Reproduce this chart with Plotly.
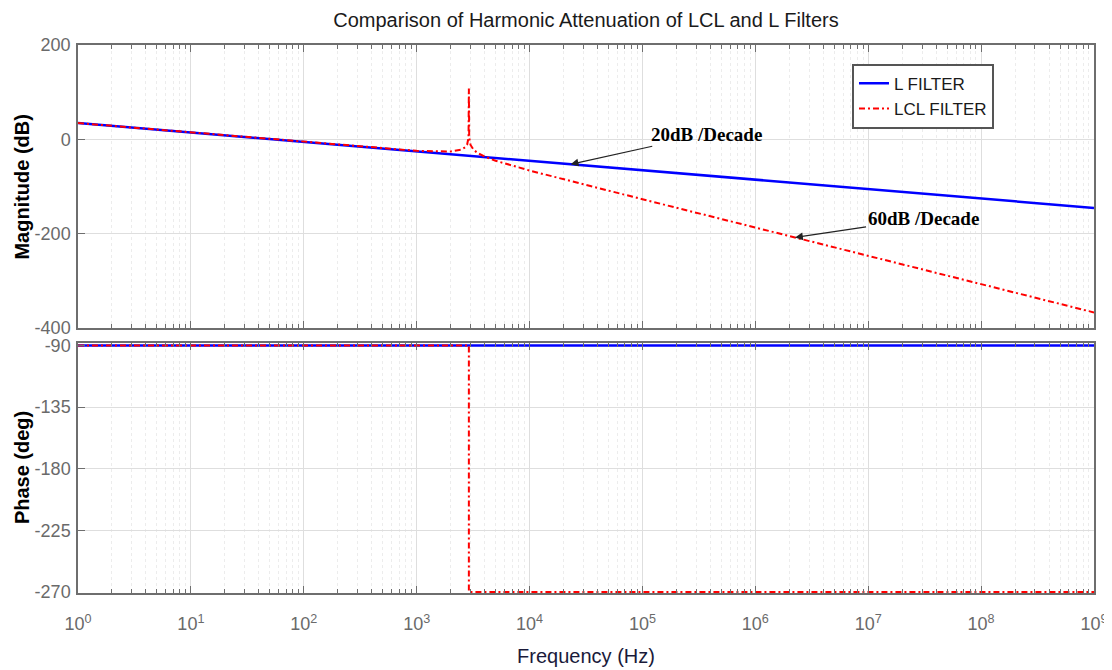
import plotly.graph_objects as go
from plotly.subplots import make_subplots

# ---- data ----
l_freq = [1, 1e9]
l_mag = [34.5, -145.5]

lcl_freq = [1, 10, 100, 1000, 2000, 2500, 2700, 2800, 2880, 2900, 2920, 3000,
            3200, 3500, 4000, 5000, 1e4, 1e5, 1e6, 1e7, 1e8, 1e9]
lcl_mag = [34.5, 14.5, -5.5, -24.4, -25.9, -21.7, -16.6, -11.1, 4.0, 108.0, 4.0, -11.9,
           -22.4, -29.6, -36.6, -45.4, -66.2, -127.0, -187.0, -247.0, -307.0, -367.0]

l_phase_freq = [1, 1e9]
l_phase = [-90, -90]
lcl_phase_freq = [1, 2900, 2900, 1e9]
lcl_phase = [-90, -90, -270, -270]

x_tick_exp = [0, 1, 2, 3, 4, 5, 6, 7, 8, 9]
x_tick_vals = [10 ** e for e in x_tick_exp]
x_tick_text = ["10<sup>%d</sup>" % e for e in x_tick_exp]
mag_ticks = [-400, -200, 0, 200]
mag_tick_text = ["-400", "-200", "0", "200"]
phase_ticks = [-270, -225, -180, -135, -90]
phase_tick_text = ["-270", "-225", "-180", "-135", "-90"]

BLUE = "#0000ff"
RED = "#ff0000"
AXIS = "#6e6e6e"
SANS = "Liberation Sans, Arial, sans-serif"
TICKFONT = dict(family=SANS, size=18, color="#6a6a6a")
DASHDOT = "6px,3px,2px,3px"

fig = make_subplots(rows=2, cols=1, shared_xaxes=True, vertical_spacing=0.0)

fig.add_trace(go.Scatter(x=l_freq, y=l_mag, mode="lines", name="L FILTER",
                         line=dict(color=BLUE, width=2.5)), row=1, col=1)
fig.add_trace(go.Scatter(x=lcl_freq, y=lcl_mag, mode="lines", name="LCL FILTER",
                         line=dict(color=RED, width=2, dash=DASHDOT)), row=1, col=1)
fig.add_trace(go.Scatter(x=l_phase_freq, y=l_phase, mode="lines", showlegend=False,
                         line=dict(color=BLUE, width=2.5)), row=2, col=1)
fig.add_trace(go.Scatter(x=lcl_phase_freq, y=lcl_phase, mode="lines", showlegend=False,
                         line=dict(color=RED, width=2, dash=DASHDOT)), row=2, col=1)

xcommon = dict(
    type="log", range=[0, 9], tickmode="array", tickvals=x_tick_vals, ticktext=x_tick_text,
    showline=True, linecolor=AXIS, linewidth=1.5, mirror="ticks",
    ticks="inside", ticklen=7, tickcolor=AXIS, tickwidth=1.2,
    showgrid=True, gridcolor="#dedede", gridwidth=1,
    minor=dict(dtick="D1", ticks="inside", ticklen=4, tickcolor=AXIS, tickwidth=1,
               showgrid=True, gridcolor="#ececec", griddash="dot", gridwidth=1),
    tickfont=TICKFONT, zeroline=False, automargin=False,
)
fig.update_xaxes(**xcommon)
fig.update_xaxes(showticklabels=False, row=1, col=1)
fig.update_xaxes(showticklabels=True, row=2, col=1, ticklabelstandoff=14,
                 title=dict(text="Frequency (Hz)", standoff=16,
                            font=dict(family=SANS, size=20, color="#1a1a3a")))

ycommon = dict(showline=True, linecolor=AXIS, linewidth=1.5, mirror=True,
               ticks="inside", ticklen=7, tickcolor=AXIS, tickwidth=1.2,
               showgrid=True, gridcolor="#dedede", gridwidth=1, zeroline=False,
               tickfont=TICKFONT, tickmode="array", automargin=False, ticklabelstandoff=2)
fig.update_yaxes(**ycommon)
fig.update_yaxes(range=[-400, 200], tickvals=mag_ticks, ticktext=mag_tick_text, row=1, col=1)
fig.update_yaxes(range=[-270.7, -88.2], tickvals=phase_ticks, ticktext=phase_tick_text, row=2, col=1)

fig.layout.yaxis.domain = [0.4836, 1.0]
fig.layout.yaxis2.domain = [0.0, 0.4562]

annot_font = dict(family="Liberation Serif, Times New Roman, serif", size=19, color="black")
fig.add_annotation(x=4.364, y=-52.8, xref="x", yref="y", text="<b>20dB /Decade</b>",
                   showarrow=True, ax=136, ay=-30, arrowhead=2, arrowsize=1.3, arrowwidth=1.2,
                   arrowcolor="#222222", font=annot_font)
fig.add_annotation(x=6.352, y=-208, xref="x", yref="y", text="<b>60dB /Decade</b>",
                   showarrow=True, ax=128, ay=-19, arrowhead=2, arrowsize=1.3, arrowwidth=1.2,
                   arrowcolor="#222222", font=annot_font)

ytitle_font = dict(family=SANS, size=20, color="black")
fig.add_annotation(x=-0.055, y=(0.4836 + 1.0) / 2, xref="paper", yref="paper",
                   xanchor="center", yanchor="middle",
                   text="<b>Magnitude (dB)</b>", textangle=-90, showarrow=False, font=ytitle_font)
fig.add_annotation(x=-0.055, y=0.4562 / 2, xref="paper", yref="paper",
                   xanchor="center", yanchor="middle",
                   text="<b>Phase (deg)</b>", textangle=-90, showarrow=False, font=ytitle_font)

# the page body has an 8px default margin, so the figure is 8px smaller than the window
fig.update_layout(
    width=1104, height=662,
    margin=dict(l=70, r=18, t=37, b=77),
    paper_bgcolor="white", plot_bgcolor="white",
    title=dict(text="Comparison of Harmonic Attenuation of LCL and L Filters",
               x=0.5, xref="paper", y=0.982, yanchor="middle", xanchor="center",
               font=dict(family=SANS, size=20, color="#1a1a1a")),
    legend=dict(x=0.7618, y=0.9657, xref="paper", yref="paper", xanchor="left", yanchor="top",
                bgcolor="white", bordercolor="#555555", borderwidth=2,
                font=dict(family=SANS, size=17, color="#1a1a1a"),
                itemwidth=30, tracegroupgap=2),
    showlegend=True,
)

fig.write_html("out.html")
